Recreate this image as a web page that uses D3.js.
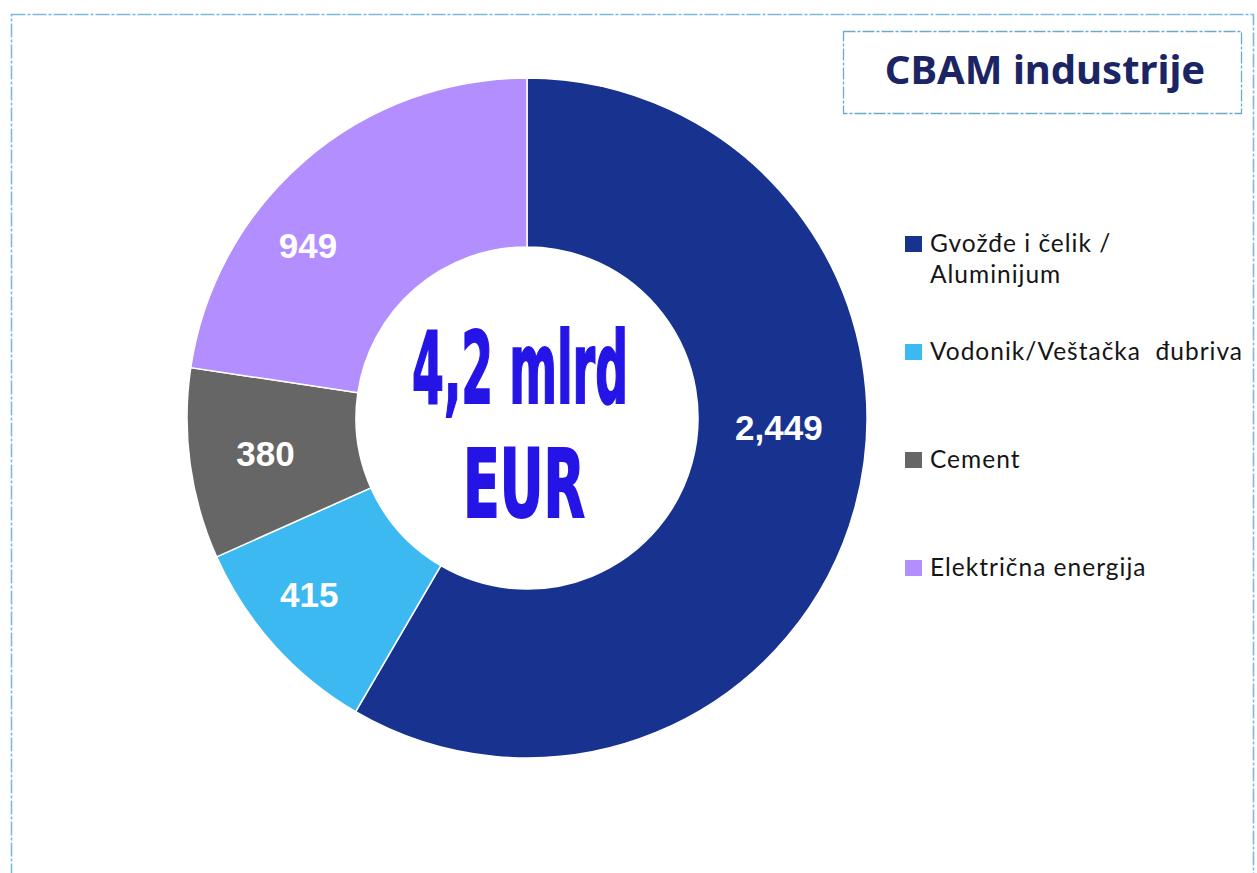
<!DOCTYPE html>
<html>
<head>
<meta charset="utf-8">
<script src="https://cdn.jsdelivr.net/npm/d3@7"></script>
<style>
  html, body { margin: 0; padding: 0; background: #fff; }
  svg { display: block; }
</style>
</head>
<body>
<div id="chart"></div>
<script>
/* ---------- podaci ---------- */
const categories = ['Gvožđe i čelik / Aluminijum', 'Vodonik/Veštačka  đubriva', 'Cement', 'Električna energija'];
const legendLines = [['Gvožđe i čelik /', 'Aluminijum'], ['Vodonik/Veštačka  đubriva'], ['Cement'], ['Električna energija']];
const values = [2449, 415, 380, 949];
const valueLabels = ['2,449', '415', '380', '949'];
const colors = ['#17338f', '#3db9f2', '#666666', '#b38eff'];
const centerLines = ['4,2 mlrd', 'EUR'];
const title = 'CBAM industrije';

/* ---------- layout ---------- */
const W = 1257, H = 873;
const cx = 527, cy = 418, rOuter = 340, rInner = 171;
// pomak etiketa (stepeni / radijus) kao Excel "best fit"
const labelShift = [-13, 3, 0, -11];
const labelR = [252, 280, 264, 279];

const svg = d3.select('#chart').append('svg')
  .attr('width', W).attr('height', H);

/* okvir */
svg.append('rect')
  .attr('x', 11.5).attr('y', 14.5)
  .attr('width', 1242).attr('height', 880)
  .attr('fill', 'none')
  .attr('stroke', '#7fbadb')
  .attr('stroke-width', 1.6)
  .attr('stroke-dasharray', '14 2 3 2');

/* naslov */
svg.append('rect')
  .attr('x', 843.5).attr('y', 31.5)
  .attr('width', 398).attr('height', 82)
  .attr('fill', '#fff')
  .attr('stroke', '#6fa9c8')
  .attr('stroke-width', 1.3)
  .attr('stroke-dasharray', '12 2 3 2');

svg.append('text')
  .attr('x', 1045).attr('y', 84)
  .attr('text-anchor', 'middle')
  .attr('font-family', 'Noto Sans, Open Sans, sans-serif')
  .attr('font-weight', 'bold')
  .attr('font-size', 40)
  .attr('fill', '#1c2563')
  .text(title);

/* krofna */
const pie = d3.pie().sort(null).value(d => d);
const arcs = pie(values);
const arc = d3.arc().innerRadius(rInner).outerRadius(rOuter);

const g = svg.append('g').attr('transform', `translate(${cx},${cy})`);

g.selectAll('path')
  .data(arcs)
  .join('path')
    .attr('d', arc)
    .attr('fill', (d, i) => colors[i])
    .attr('stroke', '#fff')
    .attr('stroke-width', 1.5);

g.selectAll('text.val')
  .data(arcs)
  .join('text')
    .attr('class', 'val')
    .attr('transform', (d, i) => {
      const a = (d.startAngle + d.endAngle) / 2 + labelShift[i] * Math.PI / 180;
      return `translate(${labelR[i] * Math.sin(a)},${-labelR[i] * Math.cos(a)})`;
    })
    .attr('text-anchor', 'middle')
    .attr('dy', '0.36em')
    .attr('font-family', 'Liberation Sans, Arial, sans-serif')
    .attr('font-weight', 'bold')
    .attr('font-size', 35)
    .attr('fill', '#fff')
    .text((d, i) => valueLabels[i]);

/* tekst u sredini – uski font, sabijen na širinu iz reference */
const centerW = [216, 122];
const centerY = [403, 517];
const centerX = [520, 524];
svg.selectAll('text.center')
  .data(centerLines)
  .join('text')
    .attr('class', 'center')
    .attr('text-anchor', 'middle')
    .attr('font-family', 'Liberation Sans Narrow, DejaVu Sans Condensed, Arial Narrow, sans-serif')
    .attr('font-weight', 'bold')
    .attr('font-size', (d, i) => i === 0 ? 100 : 94)
    .attr('fill', '#2414e6')
    .attr('stroke', '#2414e6')
    .attr('stroke-width', 2)
    .text(d => d)
    .attr('transform', function (d, i) {
      const len = this.getComputedTextLength();
      return `translate(${centerX[i]},${centerY[i]}) scale(${centerW[i] / len},1)`;
    });

/* legenda */
const legY = d3.scalePoint().domain(categories).range([252, 576]);
const leg = svg.append('g');
const item = leg.selectAll('g')
  .data(categories)
  .join('g')
    .attr('transform', d => `translate(905,${legY(d)})`);

item.append('rect')
  .attr('x', 0).attr('y', -16)
  .attr('width', 17).attr('height', 16)
  .attr('fill', (d, i) => colors[i]);

item.append('text')
  .attr('x', 25)
  .attr('font-family', 'Lato, Open Sans, sans-serif')
  .attr('font-size', 24.5)
  .attr('letter-spacing', 1)
  .attr('fill', '#151515')
  .style('white-space', 'pre')
  .selectAll('tspan')
  .data((d, i) => legendLines[i])
  .join('tspan')
    .attr('x', 25)
    .attr('dy', (d, j) => j === 0 ? 0 : 31)
    .text(d => d);
</script>
</body>
</html>
